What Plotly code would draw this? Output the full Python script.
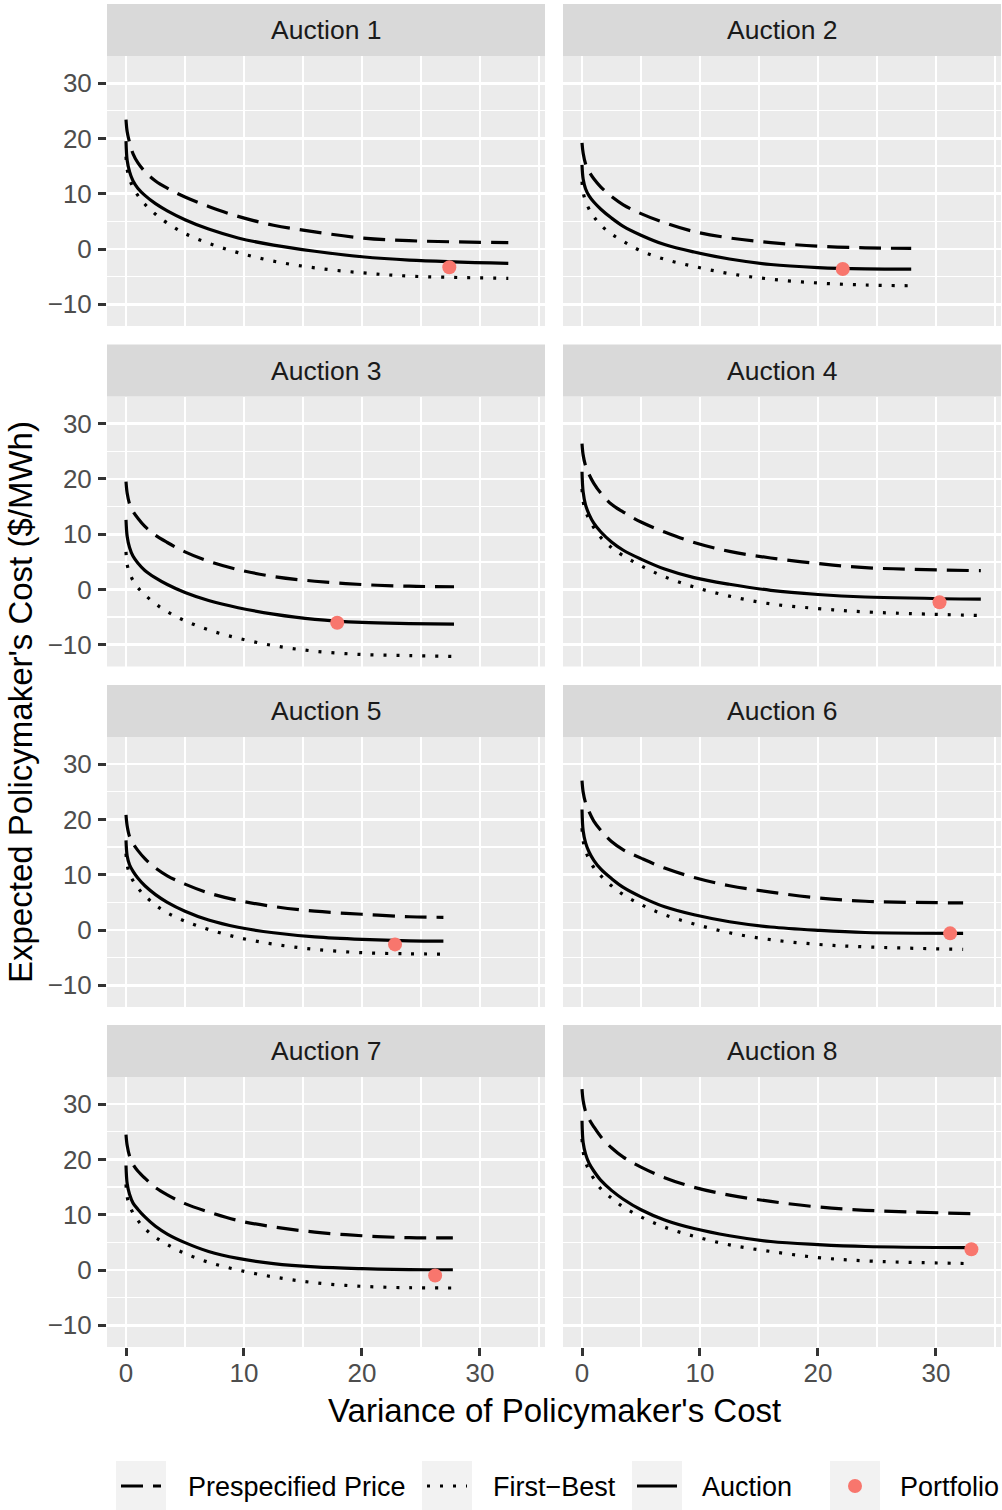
import plotly.graph_objects as go

# ---------------- data ----------------
AUCTIONS = ["Auction 1", "Auction 2", "Auction 3", "Auction 4",
            "Auction 5", "Auction 6", "Auction 7", "Auction 8"]

# variance values at which the curves were read (plus the end point of each panel)
X_GRID = [0, 0.1, 0.3, 0.6, 1, 1.6, 2.5, 3.5, 5, 7, 9.5, 12.5, 16, 20, 24]
END_X = [32.4, 27.9, 27.8, 33.8, 26.9, 32.3, 27.7, 33.0]

PRESPECIFIED_Y = [
    [23.4, 21.2, 19.3, 17.2, 15.6, 14.0, 12.3, 11.0, 9.4, 7.7, 5.9, 4.3, 3.1, 2.0, 1.5, 1.15],
    [19.2, 17.3, 15.4, 14.0, 12.7, 11.2, 9.5, 8.0, 6.4, 4.75, 3.15, 2.0, 1.15, 0.5, 0.22, 0.1],
    [19.5, 17.4, 15.5, 14.1, 12.9, 11.4, 9.8, 8.5, 6.8, 5.1, 3.6, 2.35, 1.5, 0.9, 0.6, 0.5],
    [26.4, 24.3, 22.4, 20.8, 19.2, 17.4, 15.4, 14.0, 12.2, 10.4, 8.5, 6.9, 5.7, 4.7, 3.95, 3.4],
    [20.8, 18.8, 16.9, 15.6, 14.4, 12.9, 11.2, 9.8, 8.3, 6.7, 5.35, 4.25, 3.4, 2.85, 2.4, 2.3],
    [27.0, 24.9, 23.0, 21.4, 19.7, 18.0, 16.0, 14.5, 13.0, 11.2, 9.5, 8.0, 6.85, 5.8, 5.2, 4.9],
    [24.5, 22.5, 20.6, 19.1, 17.9, 16.6, 14.9, 13.6, 12.0, 10.5, 8.95, 7.8, 6.85, 6.2, 5.85, 5.8],
    [32.7, 30.6, 28.7, 27.3, 25.9, 24.1, 22.1, 20.4, 18.6, 16.7, 14.95, 13.55, 12.4, 11.4, 10.8, 10.2],
]

FIRST_BEST_Y = [
    [16.7, 14.4, 12.7, 11.1, 9.7, 8.1, 6.3, 4.7, 2.8, 1.05, -0.65, -2.2, -3.4, -4.3, -4.9, -5.3],
    [12.2, 10.2, 8.7, 7.2, 5.85, 4.3, 2.7, 1.4, -0.35, -1.85, -3.15, -4.45, -5.45, -6.15, -6.5, -6.65],
    [6.8, 4.5, 3.0, 1.6, 0.35, -0.95, -2.6, -4.0, -5.65, -7.3, -8.8, -10.15, -11.15, -11.75, -11.95, -12.1],
    [18.2, 15.9, 14.2, 12.7, 11.2, 9.4, 7.6, 6.1, 4.3, 2.3, 0.45, -1.2, -2.6, -3.45, -4.05, -4.7],
    [13.8, 11.7, 10.2, 8.9, 7.6, 6.2, 4.5, 3.1, 1.6, 0.1, -1.35, -2.55, -3.5, -4.1, -4.3, -4.35],
    [18.4, 16.1, 14.3, 12.8, 11.3, 9.8, 8.0, 6.4, 4.6, 2.75, 1.1, -0.5, -1.75, -2.6, -3.05, -3.5],
    [15.5, 13.2, 11.7, 10.3, 9.0, 7.5, 5.9, 4.6, 3.0, 1.4, 0.0, -1.25, -2.3, -2.95, -3.2, -3.25],
    [23.7, 21.4, 19.5, 18.0, 16.5, 14.7, 13.0, 11.4, 9.6, 7.75, 6.1, 4.55, 3.35, 2.25, 1.65, 1.15],
]

AUCTION_Y = [
    [19.5, 16.0, 14.0, 12.3, 11.0, 9.7, 8.2, 6.9, 5.3, 3.6, 2.0, 0.7, -0.4, -1.4, -2.0, -2.6],
    [15.2, 12.6, 10.9, 9.6, 8.5, 7.2, 5.6, 4.1, 2.5, 0.8, -0.55, -1.8, -2.8, -3.35, -3.6, -3.65],
    [12.6, 9.6, 7.6, 6.0, 4.8, 3.45, 2.1, 0.9, -0.55, -2.0, -3.3, -4.45, -5.4, -5.95, -6.15, -6.25],
    [21.3, 17.6, 15.3, 13.6, 12.0, 10.4, 8.6, 7.1, 5.5, 3.7, 2.15, 0.95, -0.15, -0.9, -1.35, -1.75],
    [16.2, 13.4, 11.8, 10.6, 9.4, 8.0, 6.4, 5.0, 3.4, 1.8, 0.5, -0.5, -1.25, -1.7, -1.95, -2.0],
    [21.8, 17.9, 15.8, 14.1, 12.6, 11.0, 9.3, 7.7, 6.0, 4.2, 2.75, 1.5, 0.55, -0.05, -0.45, -0.6],
    [18.9, 15.6, 13.7, 12.1, 11.0, 9.6, 7.9, 6.5, 4.95, 3.35, 2.1, 1.15, 0.55, 0.24, 0.08, 0.05],
    [27.0, 23.0, 21.0, 19.3, 17.9, 16.2, 14.4, 12.8, 10.9, 9.05, 7.5, 6.2, 5.15, 4.6, 4.25, 4.05],
]

PORTFOLIO_X = [27.4, 22.1, 17.9, 30.3, 22.8, 31.2, 26.2, 33.0]
PORTFOLIO_Y = [-3.3, -3.6, -6.0, -2.3, -2.6, -0.6, -1.0, 3.75]

X_TICKS = [0, 10, 20, 30]
X_MINOR = [5, 15, 25, 35]
Y_TICKS = [-10, 0, 10, 20, 30]
Y_MINOR = [-5, 5, 15, 25]

LEGEND_LABELS = ["Prespecified Price", "First\u2212Best", "Auction", "Portfolio"]

# ---------------- layout constants (pixels in the 1002x1510 window) ----------------
W, H = 1002, 1510
COL_LEFT = [107, 563]
PANEL_W = 438
ROW_TOP = [56, 396.5, 737, 1077]
PANEL_H = 270
STRIP_H = 52
X_RANGE = [-1.61, 35.51]
Y_RANGE = [-13.92, 34.9]

FONT = "Liberation Sans, Arial, Helvetica, sans-serif"
LW = 3.2
DASH_LONG = "22px,10px"
DASH_DOT = "3px,10px"
POINT_COLOR = "#F8766D"


def fx(px):
    return px / W


def fy(py):
    return 1 - py / H


fig = go.Figure()
layout = dict(
    width=W, height=H,
    margin=dict(l=0, r=0, t=0, b=0),
    paper_bgcolor="white",
    plot_bgcolor="#EBEBEB",
    showlegend=False,
    font=dict(family=FONT, color="black"),
)

shapes = []
annotations = []

for i in range(8):
    r, c = divmod(i, 2)
    key = "" if i == 0 else str(i + 1)
    xs = X_GRID + [END_X[i]]
    common = dict(xaxis="x" + key, yaxis="y" + key, showlegend=False, hoverinfo="skip")
    fig.add_trace(go.Scatter(x=xs, y=PRESPECIFIED_Y[i], mode="lines",
                             line=dict(color="black", width=LW, dash=DASH_LONG,
                                       shape="spline", smoothing=1.0), **common))
    fig.add_trace(go.Scatter(x=xs, y=FIRST_BEST_Y[i], mode="lines",
                             line=dict(color="black", width=LW, dash=DASH_DOT,
                                       shape="spline", smoothing=1.0), **common))
    fig.add_trace(go.Scatter(x=xs, y=AUCTION_Y[i], mode="lines",
                             line=dict(color="black", width=LW,
                                       shape="spline", smoothing=1.0), **common))
    fig.add_trace(go.Scatter(x=[PORTFOLIO_X[i]], y=[PORTFOLIO_Y[i]], mode="markers",
                             marker=dict(color=POINT_COLOR, size=14, line=dict(width=0)),
                             **common))

    x0 = COL_LEFT[c]
    y0 = ROW_TOP[r]
    bottom = (r == 3)
    left = (c == 0)
    layout["xaxis" + key] = dict(
        domain=[fx(x0), fx(x0 + PANEL_W)], range=X_RANGE, anchor="y" + key,
        tickmode="array", tickvals=X_TICKS,
        showgrid=True, gridcolor="white", gridwidth=2.8,
        minor=dict(tickvals=X_MINOR, showgrid=True, gridcolor="white", gridwidth=1.4, ticks=""),
        zeroline=False, showline=False,
        ticks="outside" if bottom else "", ticklen=8, tickwidth=3, tickcolor="#333333",
        showticklabels=bottom,
        tickfont=dict(family=FONT, size=26, color="#4D4D4D"),
        ticklabelstandoff=-5,
        fixedrange=True,
    )
    layout["yaxis" + key] = dict(
        domain=[fy(y0 + PANEL_H), fy(y0)], range=Y_RANGE, anchor="x" + key,
        tickmode="array", tickvals=Y_TICKS,
        showgrid=True, gridcolor="white", gridwidth=2.8,
        minor=dict(tickvals=Y_MINOR, showgrid=True, gridcolor="white", gridwidth=1.4, ticks=""),
        zeroline=False, showline=False,
        ticks="outside" if left else "", ticklen=8, tickwidth=3, tickcolor="#333333",
        showticklabels=left,
        tickfont=dict(family=FONT, size=26, color="#4D4D4D"),
        ticklabelstandoff=1,
        fixedrange=True,
    )

    # facet strip
    shapes.append(dict(type="rect", xref="paper", yref="paper",
                       x0=fx(x0), x1=fx(x0 + PANEL_W),
                       y0=fy(y0), y1=fy(y0 - STRIP_H),
                       fillcolor="#D9D9D9", line=dict(width=0), layer="below"))
    annotations.append(dict(text=AUCTIONS[i], xref="paper", yref="paper",
                            x=fx(x0 + PANEL_W / 2), y=fy(y0 - STRIP_H / 2),
                            xanchor="center", yanchor="middle", showarrow=False,
                            font=dict(family=FONT, size=26.5, color="#1A1A1A")))

# axis titles
annotations.append(dict(text="Variance of Policymaker's Cost", xref="paper", yref="paper",
                        x=fx(554), y=fy(1410), xanchor="center", yanchor="middle",
                        showarrow=False, font=dict(family=FONT, size=33, color="black")))
annotations.append(dict(text="Expected Policymaker's Cost ($/MWh)", xref="paper", yref="paper",
                        x=fx(20), y=fy(702), xanchor="center", yanchor="middle",
                        textangle=-90, showarrow=False,
                        font=dict(family=FONT, size=33, color="black")))

# legend (ggplot style, bottom)
KEY_LEFT = [116, 422, 632, 830]
KEY_TOP = 1461
KEY_SIZE = 50
TEXT_LEFT = [186, 491, 700, 898]
LEG_CY = KEY_TOP + KEY_SIZE / 2
for k in range(4):
    kx = KEY_LEFT[k]
    shapes.append(dict(type="rect", xref="paper", yref="paper",
                       x0=fx(kx), x1=fx(kx + KEY_SIZE), y0=fy(KEY_TOP + KEY_SIZE), y1=fy(KEY_TOP),
                       fillcolor="#F2F2F2", line=dict(width=0), layer="below"))
    if k < 3:
        dash = [DASH_LONG, DASH_DOT, "solid"][k]
        shapes.append(dict(type="line", xref="paper", yref="paper",
                           x0=fx(kx + 5), x1=fx(kx + 45), y0=fy(LEG_CY), y1=fy(LEG_CY),
                           line=dict(color="black", width=LW, dash=dash)))
    else:
        rr = 7
        cx = kx + KEY_SIZE / 2
        shapes.append(dict(type="circle", xref="paper", yref="paper",
                           x0=fx(cx - rr), x1=fx(cx + rr), y0=fy(LEG_CY + rr), y1=fy(LEG_CY - rr),
                           fillcolor=POINT_COLOR, line=dict(width=0)))
    annotations.append(dict(text=LEGEND_LABELS[k], xref="paper", yref="paper",
                            x=fx(TEXT_LEFT[k]), y=fy(LEG_CY + 1), xanchor="left", yanchor="middle",
                            showarrow=False, font=dict(family=FONT, size=27, color="black")))

layout["shapes"] = shapes
layout["annotations"] = annotations
fig.update_layout(**layout)

fig.write_html(
    "out.html",
    config={"displayModeBar": False, "staticPlot": True},
    post_script="document.body.style.margin='0px';document.body.style.overflow='hidden';"
                "document.documentElement.style.overflow='hidden';",
)
